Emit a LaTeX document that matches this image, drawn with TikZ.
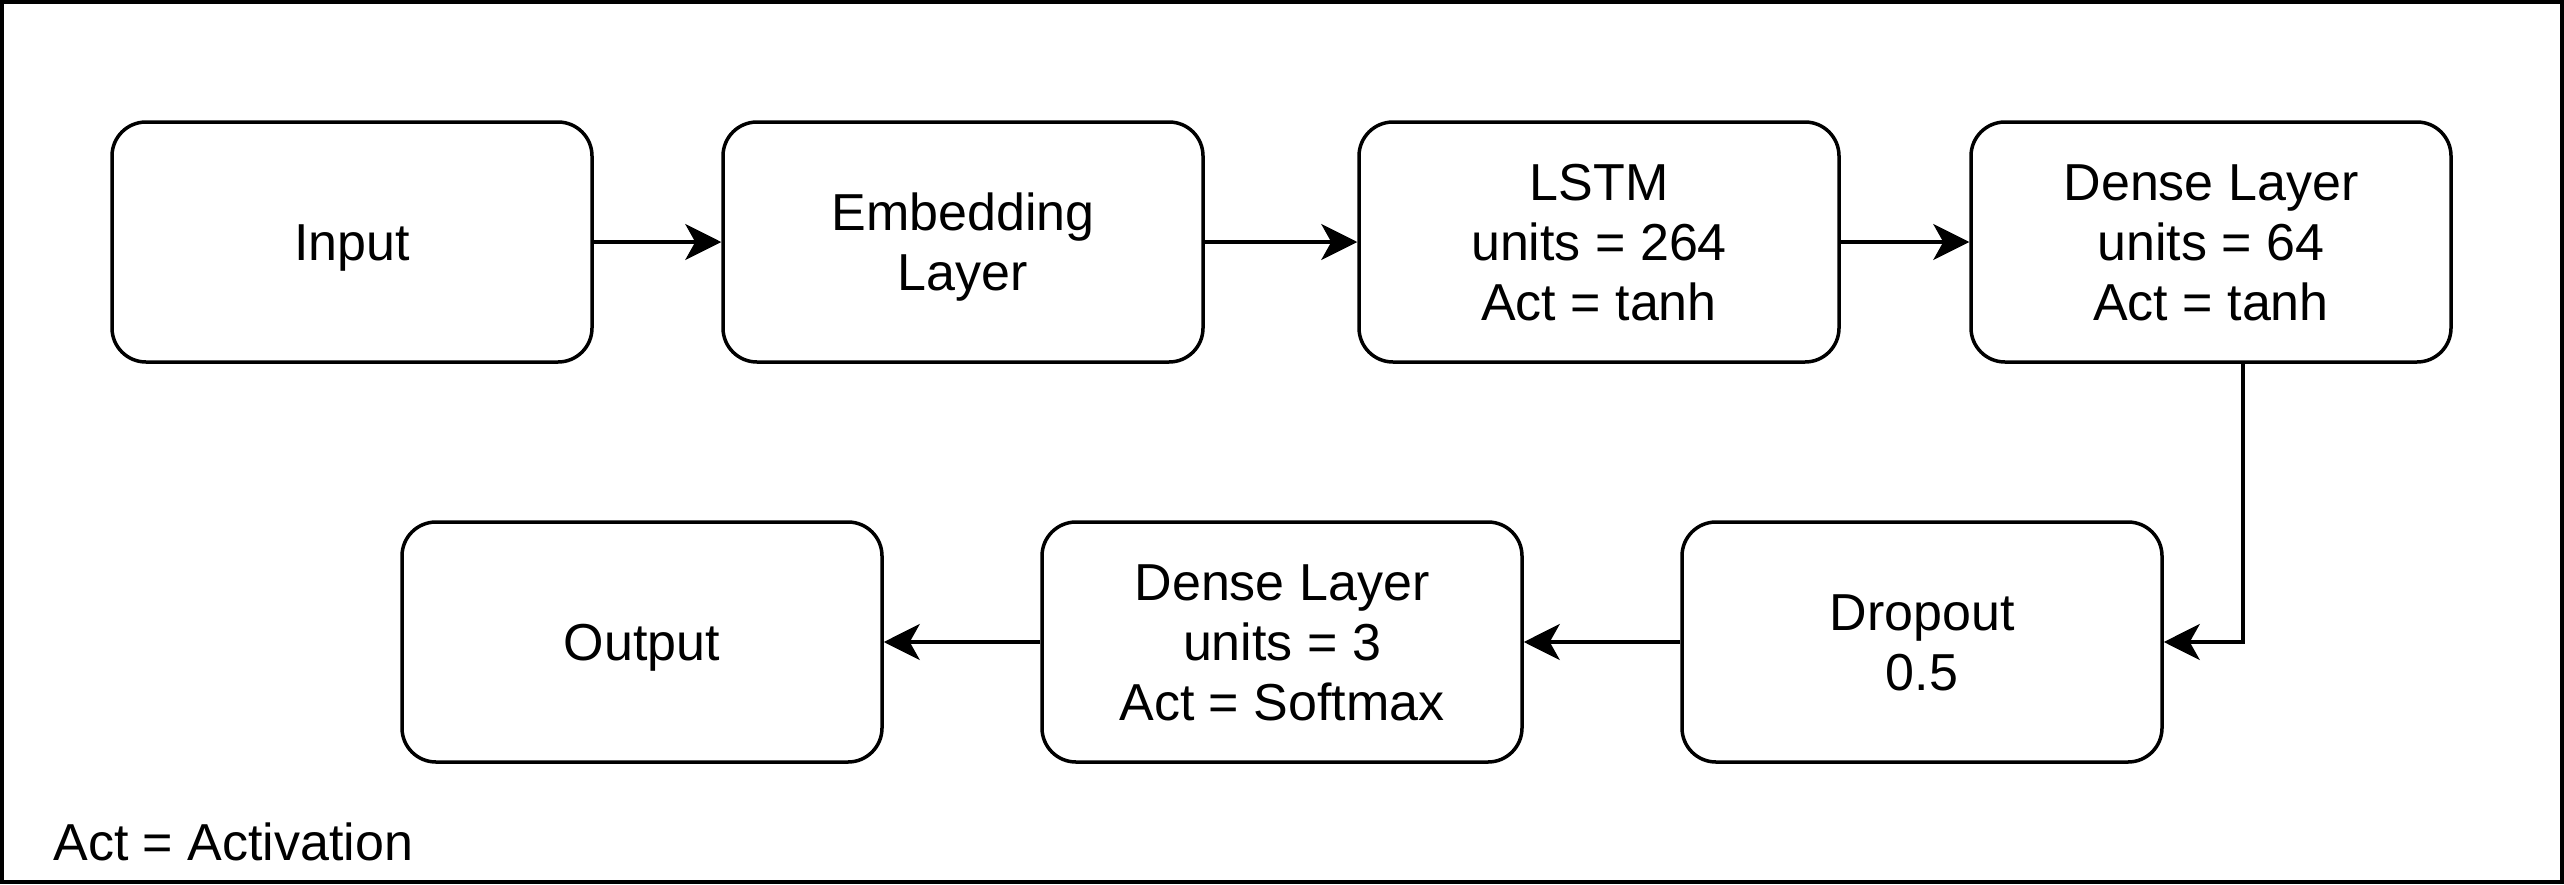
\documentclass[tikz,border=0pt]{standalone}
\usepackage{fontspec}
\setmainfont{Liberation Sans}
\usetikzlibrary{arrows.meta, positioning}
\newcommand\ls{\rule[-6pt]{0pt}{30pt}}

\begin{document}
\begin{tikzpicture}[x=0.5pt, y=-0.5pt,
    layer/.style={draw, rounded corners=17pt, line width=1.75pt, fill=white,
                  minimum width=240pt, minimum height=120pt, inner sep=0pt,
                  align=center, font=\fontsize{26}{30}\selectfont,
                  execute at end node=\ls},
    flow/.style={-{Stealth[length=18pt, width=18pt, inset=5pt]}, line width=1.75pt},
]
    \useasboundingbox (0,0) rectangle (2564,884);
    \draw[line width=2pt] (2,2) rectangle (2562,882);

    % top row
    \node[layer] (input) at (352, 242) {\ls Input};
    \node[layer] (embed) at (963, 242) {\ls Embedding\\Layer};
    \node[layer] (lstm) at (1599, 242) {\ls LSTM\\units = 264\\Act = tanh};
    \node[layer] (dense) at (2211, 242) {\ls Dense Layer\\units = 64\\Act = tanh};

    % bottom row
    \node[layer] (dropout) at (1922, 642) {\ls Dropout\\0.5};
    \node[layer] (softmax) at (1282, 642) {\ls Dense Layer\\units = 3\\Act = Softmax};
    \node[layer] (output) at (642, 642) {\ls Output};

    \node[anchor=base west, inner sep=0pt, font=\fontsize{26}{30}\selectfont] (note) at (53, 860) {Act = Activation};

    \coordinate (bend) at (2243, 642);

    \draw[flow] (input) -- (embed);
    \draw[flow] (embed) -- (lstm);
    \draw[flow] (lstm) -- (dense);
    \draw[flow] (dense.south -| bend) -- (bend) -- (dropout.east);
    \draw[flow] (dropout) -- (softmax);
    \draw[flow] (softmax) -- (output);
\end{tikzpicture}
\end{document}
